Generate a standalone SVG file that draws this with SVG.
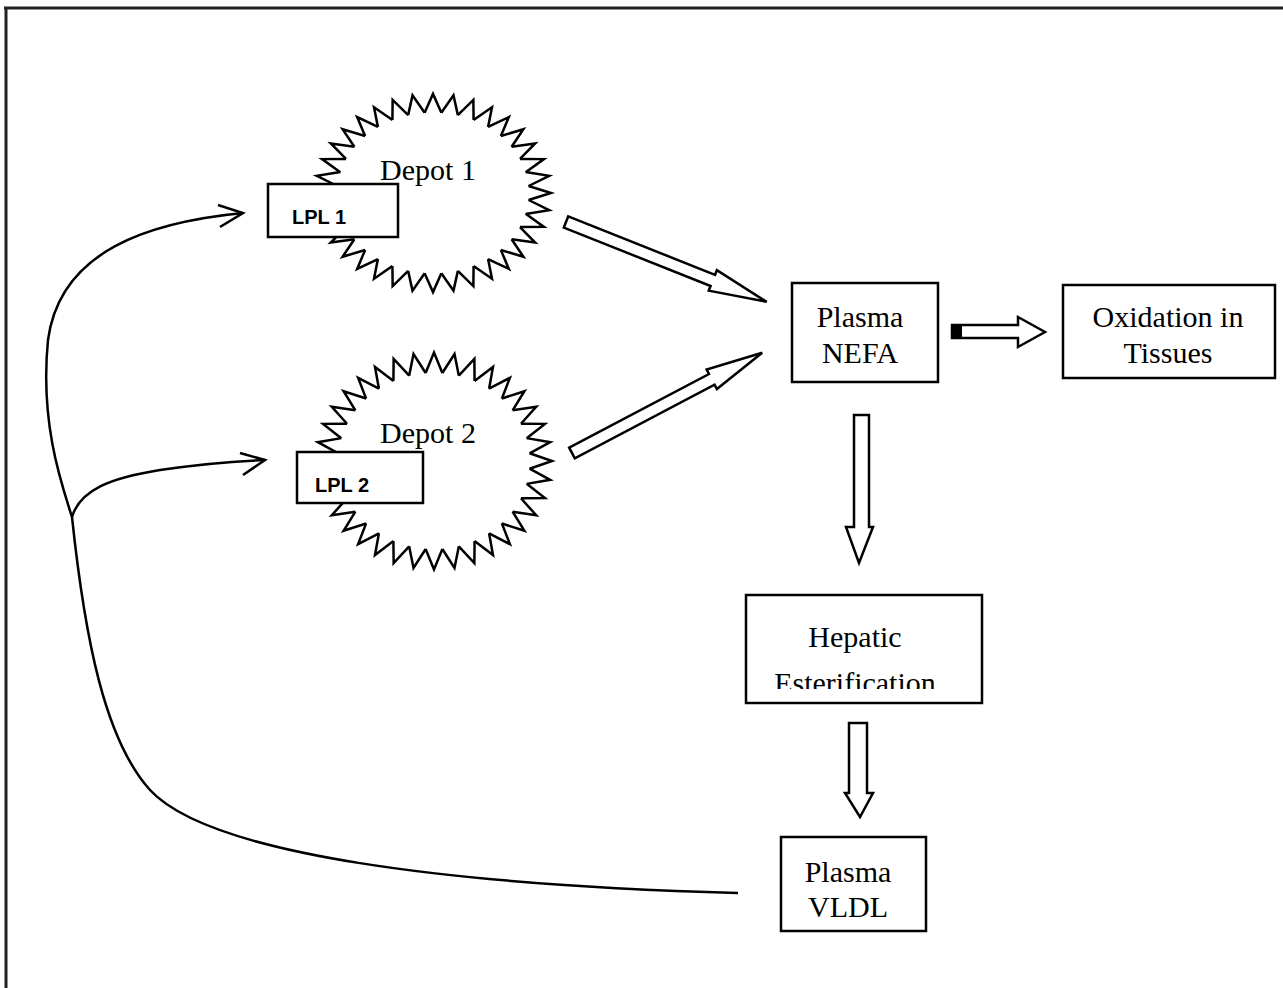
<svg xmlns="http://www.w3.org/2000/svg" xmlns:xlink="http://www.w3.org/1999/xlink" width="1283" height="988" viewBox="0 0 1283 988">
<style>
.box{fill:#fff;stroke:#000;stroke-width:2.5}
.t{font-family:"Liberation Serif","Times New Roman",serif;font-size:30px;fill:#000;text-anchor:middle}
.s{font-family:"Liberation Sans",Arial,sans-serif;font-size:20px;font-weight:bold;fill:#000}
.ln{fill:none;stroke:#000;stroke-width:2.5}
.ha{fill:#fff;stroke:#000;stroke-width:2.5;stroke-linejoin:miter}
.tooth{fill:none;stroke:#000;stroke-width:2.5;vector-effect:non-scaling-stroke}
</style>
<defs>
<polyline id="tooth" class="tooth" points="95.6,-8.4 118,0 95.6,8.4"/>
<g id="ring">
<use xlink:href="#tooth" transform="rotate(0)"/>
<use xlink:href="#tooth" transform="rotate(10)"/>
<use xlink:href="#tooth" transform="rotate(20)"/>
<use xlink:href="#tooth" transform="rotate(30)"/>
<use xlink:href="#tooth" transform="rotate(40)"/>
<use xlink:href="#tooth" transform="rotate(50)"/>
<use xlink:href="#tooth" transform="rotate(60)"/>
<use xlink:href="#tooth" transform="rotate(70)"/>
<use xlink:href="#tooth" transform="rotate(80)"/>
<use xlink:href="#tooth" transform="rotate(90)"/>
<use xlink:href="#tooth" transform="rotate(100)"/>
<use xlink:href="#tooth" transform="rotate(110)"/>
<use xlink:href="#tooth" transform="rotate(120)"/>
<use xlink:href="#tooth" transform="rotate(130)"/>
<use xlink:href="#tooth" transform="rotate(140)"/>
<use xlink:href="#tooth" transform="rotate(150)"/>
<use xlink:href="#tooth" transform="rotate(160)"/>
<use xlink:href="#tooth" transform="rotate(170)"/>
<use xlink:href="#tooth" transform="rotate(180)"/>
<use xlink:href="#tooth" transform="rotate(190)"/>
<use xlink:href="#tooth" transform="rotate(200)"/>
<use xlink:href="#tooth" transform="rotate(210)"/>
<use xlink:href="#tooth" transform="rotate(220)"/>
<use xlink:href="#tooth" transform="rotate(230)"/>
<use xlink:href="#tooth" transform="rotate(240)"/>
<use xlink:href="#tooth" transform="rotate(250)"/>
<use xlink:href="#tooth" transform="rotate(260)"/>
<use xlink:href="#tooth" transform="rotate(270)"/>
<use xlink:href="#tooth" transform="rotate(280)"/>
<use xlink:href="#tooth" transform="rotate(290)"/>
<use xlink:href="#tooth" transform="rotate(300)"/>
<use xlink:href="#tooth" transform="rotate(310)"/>
<use xlink:href="#tooth" transform="rotate(320)"/>
<use xlink:href="#tooth" transform="rotate(330)"/>
<use xlink:href="#tooth" transform="rotate(340)"/>
<use xlink:href="#tooth" transform="rotate(350)"/>
</g>
<clipPath id="hepclip"><rect x="740" y="595" width="250" height="94"/></clipPath>
</defs>
<rect x="0" y="0" width="1283" height="988" fill="#fff"/>
<g id="frame">
<line x1="4" y1="8" x2="1283" y2="8" stroke="#222" stroke-width="3"/>
<line x1="6" y1="7" x2="6" y2="988" stroke="#222" stroke-width="3"/>
</g>
<g id="depot1">
<use xlink:href="#ring" transform="translate(433,193) scale(1,0.84)"/>
<text class="t" x="428" y="180">Depot 1</text>
</g>
<g id="lpl1">
<rect class="box" x="268" y="184" width="130" height="53"/>
<text class="s" x="292" y="224">LPL 1</text>
</g>
<g id="depot2">
<use xlink:href="#ring" transform="translate(434,461) scale(1,0.92)"/>
<text class="t" x="428" y="443">Depot 2</text>
</g>
<g id="lpl2">
<rect class="box" x="297" y="452" width="126" height="51"/>
<text class="s" x="315" y="492">LPL 2</text>
</g>
<g id="nefa">
<rect class="box" x="792" y="283" width="146" height="99"/>
<text class="t" x="860" y="327">Plasma</text>
<text class="t" x="860" y="363">NEFA</text>
</g>
<g id="oxidation">
<rect class="box" x="1063" y="285" width="212" height="93"/>
<text class="t" x="1168" y="327">Oxidation in</text>
<text class="t" x="1168" y="363">Tissues</text>
</g>
<g id="hepatic">
<rect class="box" x="746" y="595" width="236" height="108"/>
<text class="t" x="855" y="647">Hepatic</text>
<text class="t" x="855" y="693" clip-path="url(#hepclip)">Esterification</text>
</g>
<g id="vldl">
<rect class="box" x="781" y="837" width="145" height="94"/>
<text class="t" x="848" y="882">Plasma</text>
<text class="t" x="848" y="917">VLDL</text>
</g>
<g id="connectors">
<polygon class="ha" transform="translate(566,222) rotate(21.7)" points="0,-6 158,-6 158,-11 216,0 158,11 158,6 0,6"/>
<polygon class="ha" transform="translate(572,453) rotate(-27.8)" points="0,-6 158,-6 158,-11 215,0 158,11 158,6 0,6"/>
<polygon class="ha" points="952,325 1018,325 1018,317 1045,332 1018,347 1018,338 952,338"/>
<rect x="952" y="325" width="10" height="13" fill="#000"/>
<polygon class="ha" points="854,415 869,415 869,527 873,527 859,563 846,527 854,527"/>
<polygon class="ha" points="849,723 867,723 867,793 873,793 860,817 845,793 849,793"/>
<path class="ln" d="M243 213 C150 222,60 250,48 340 C40 420,60 480,72 517 C85 640,105 740,150 790 C210 855,450 885,738 893"/>
<path class="ln" d="M72 517 C80 490,110 478,160 470 C200 464,240 461,265 460"/>
<polyline class="ln" points="218,205 243,213 220,227"/>
<polyline class="ln" points="240,453 265,460 243,475"/>
</g>
</svg>
